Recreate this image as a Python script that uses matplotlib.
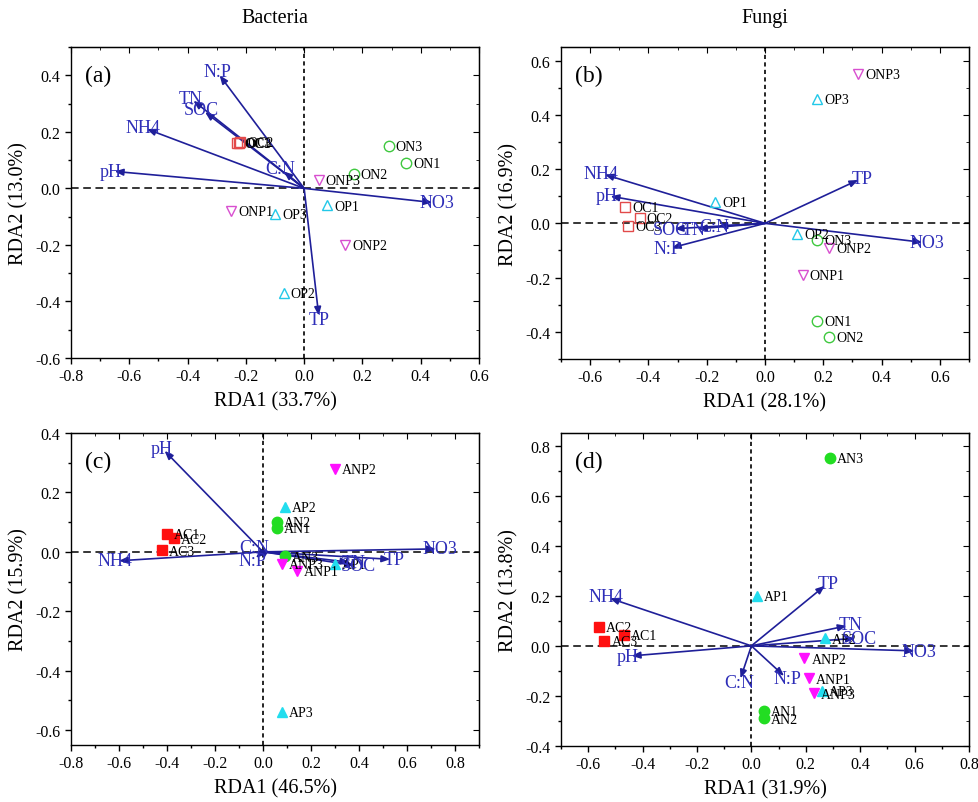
import numpy as np
import matplotlib.pyplot as plt
from matplotlib.ticker import MultipleLocator, FormatStrFormatter

plt.rcParams['font.family'] = ['Liberation Serif', 'DejaVu Serif']
plt.rcParams['axes.unicode_minus'] = False

# environmental factors (same order in every panel)
env_names = ["pH", "NH4", "NO3", "TN", "SOC", "TP", "C:N", "N:P"]

# (a) Bacteria, top row
env_a_x = [-0.65, -0.54, 0.44, -0.38, -0.34, 0.05, -0.07, -0.29]
env_a_y = [0.06, 0.21, -0.05, 0.31, 0.27, -0.45, 0.06, 0.40]
# (b) Fungi, top row
env_b_x = [-0.53, -0.55, 0.54, -0.23, -0.31, 0.32, -0.16, -0.32]
env_b_y = [0.10, 0.18, -0.07, -0.02, -0.02, 0.16, -0.01, -0.09]
# (c) Bacteria, bottom row
env_c_x = [-0.41, -0.60, 0.72, 0.36, 0.38, 0.53, -0.02, -0.03]
env_c_y = [0.34, -0.03, 0.01, -0.035, -0.045, -0.025, 0.01, -0.02]
# (d) Fungi, bottom row
env_d_x = [-0.44, -0.52, 0.60, 0.35, 0.38, 0.27, -0.04, 0.12]
env_d_y = [-0.04, 0.19, -0.02, 0.08, 0.03, 0.24, -0.13, -0.12]

samples_top = ["OC1", "OC2", "OC3", "ON1", "ON2", "ON3",
               "OP1", "OP2", "OP3", "ONP1", "ONP2", "ONP3"]
samples_bottom = ["AC1", "AC2", "AC3", "AN1", "AN2", "AN3",
                  "AP1", "AP2", "AP3", "ANP1", "ANP2", "ANP3"]

site_a_x = [-0.23, -0.22, -0.225, 0.35, 0.17, 0.29, 0.08, -0.07, -0.10, -0.25, 0.14, 0.05]
site_a_y = [0.16, 0.165, 0.16, 0.09, 0.05, 0.15, -0.06, -0.37, -0.09, -0.08, -0.20, 0.03]
site_b_x = [-0.48, -0.43, -0.47, 0.18, 0.22, 0.18, -0.17, 0.11, 0.18, 0.13, 0.22, 0.32]
site_b_y = [0.06, 0.02, -0.01, -0.36, -0.42, -0.06, 0.08, -0.04, 0.46, -0.19, -0.09, 0.55]
site_c_x = [-0.40, -0.37, -0.42, 0.06, 0.06, 0.09, 0.30, 0.09, 0.08, 0.14, 0.30, 0.08]
site_c_y = [0.06, 0.045, 0.005, 0.08, 0.10, -0.015, -0.04, 0.15, -0.54, -0.065, 0.28, -0.04]
site_d_x = [-0.47, -0.56, -0.54, 0.045, 0.045, 0.29, 0.02, 0.27, 0.26, 0.21, 0.195, 0.23]
site_d_y = [0.045, 0.075, 0.02, -0.26, -0.29, 0.75, 0.20, 0.03, -0.18, -0.13, -0.05, -0.19]

axis_pct = {"a": ("33.7", "13.0"), "b": ("28.1", "16.9"),
            "c": ("46.5", "15.9"), "d": ("31.9", "13.8")}

# marker style per treatment group
open_style = {"C": ("s", "#e24a4a"), "N": ("o", "#3fc83f"),
              "P": ("^", "#22c8e8"), "NP": ("v", "#d84fd0")}
fill_style = {"C": ("s", "#ff1010"), "N": ("o", "#22dd22"),
              "P": ("^", "#22ddee"), "NP": ("v", "#ff10ff")}

ARROW_COL = "#1f1f99"
LABEL_COL = "#2e2eb8"


def draw_panel(ax, tag, ex, ey, names, sx, sy, filled, xlim, ylim):
    ax.axhline(0, color="k", lw=1.1, ls=(0, (5, 3)), zorder=1)
    ax.axvline(0, color="k", lw=1.2, ls=(0, (2.5, 2)), zorder=1)

    styles = fill_style if filled else open_style
    for name, x, y in zip(names, sx, sy):
        marker, col = styles[name[1:-1]]
        ax.plot(x, y, marker=marker, ms=7.5, mfc=col if filled else "none",
                mec=col, mew=1.0, ls="none", zorder=3)
        ax.annotate(name, (x, y), xytext=(5, -0.5), textcoords="offset points",
                    ha="left", va="center", fontsize=10, zorder=4)

    for lab, x, y in zip(env_names, ex, ey):
        ax.annotate("", xy=(x, y), xytext=(0, 0),
                    arrowprops=dict(arrowstyle="-|>,head_length=0.5,head_width=0.2",
                                    color=ARROW_COL, lw=1.2, shrinkA=0, shrinkB=0),
                    zorder=2)
        d = np.hypot(x, y)
        ux, uy = x / d, y / d
        ax.annotate(lab, (x, y), xytext=(ux * 3, uy * 3), textcoords="offset points",
                    ha="center", va="center", color=LABEL_COL, fontsize=13, zorder=5)

    ax.set_xlim(*xlim)
    ax.set_ylim(*ylim)
    for a in (ax.xaxis, ax.yaxis):
        a.set_major_locator(MultipleLocator(0.2))
        a.set_minor_locator(MultipleLocator(0.1))
        a.set_major_formatter(FormatStrFormatter("%.1f"))
    ax.tick_params(which="both", direction="out", labelsize=11.5, width=1)
    ax.tick_params(which="major", length=4)
    ax.tick_params(which="minor", length=2.5)
    for loc in ("top", "right"):
        sec = ax.secondary_xaxis("top") if loc == "top" else ax.secondary_yaxis("right")
        axis = sec.xaxis if loc == "top" else sec.yaxis
        axis.set_major_locator(MultipleLocator(0.2))
        axis.set_minor_locator(MultipleLocator(0.1))
        sec.tick_params(which="both", direction="in", labeltop=False, labelright=False)
        sec.tick_params(which="major", length=4)
        sec.tick_params(which="minor", length=2.5)
    for sp in ax.spines.values():
        sp.set_linewidth(1.0)

    px, py = axis_pct[tag]
    ax.set_xlabel(f"RDA1 ({px}%)", fontsize=14.5, labelpad=5)
    ax.set_ylabel(f"RDA2 ({py}%)", fontsize=14.5, labelpad=5)
    ax.text(0.035, 0.91, f"({tag})", transform=ax.transAxes, fontsize=17,
            ha="left", va="center")


fig = plt.figure(figsize=(9.79, 8.03), dpi=100)
ax_a = fig.add_axes([0.0725, 0.5529, 0.4168, 0.3873])
ax_b = fig.add_axes([0.5730, 0.5517, 0.4168, 0.3885])
ax_c = fig.add_axes([0.0725, 0.0710, 0.4168, 0.3885])
ax_d = fig.add_axes([0.5730, 0.0697, 0.4168, 0.3898])

draw_panel(ax_a, "a", env_a_x, env_a_y, samples_top, site_a_x, site_a_y, False,
           (-0.8, 0.6), (-0.6, 0.5))
draw_panel(ax_b, "b", env_b_x, env_b_y, samples_top, site_b_x, site_b_y, False,
           (-0.7, 0.7), (-0.5, 0.65))
draw_panel(ax_c, "c", env_c_x, env_c_y, samples_bottom, site_c_x, site_c_y, True,
           (-0.8, 0.9), (-0.65, 0.4))
draw_panel(ax_d, "d", env_d_x, env_d_y, samples_bottom, site_d_x, site_d_y, True,
           (-0.7, 0.8), (-0.4, 0.85))

fig.text(0.281, 0.977, "Bacteria", ha="center", va="center", fontsize=14.5)
fig.text(0.781, 0.977, "Fungi", ha="center", va="center", fontsize=14.5)

fig.savefig("out.png", dpi=100)
